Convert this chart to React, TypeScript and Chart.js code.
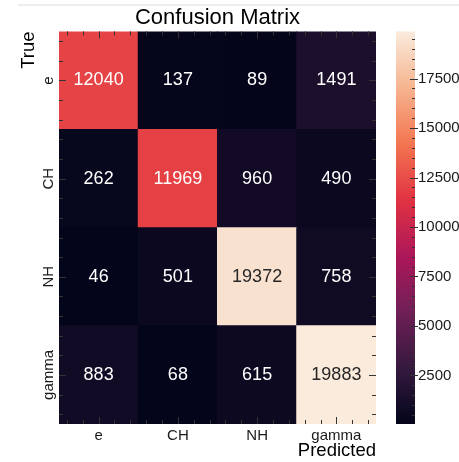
import React, { useEffect, useRef } from "react";
import { Chart, registerables } from "chart.js";

Chart.register(...registerables);

const chartTitle = "Confusion Matrix";
const xAxisTitle = "Predicted";
const yAxisTitle = "True";
const predictedLabels = ["e", "CH", "NH", "gamma"];
const trueLabels = ["e", "CH", "NH", "gamma"];
const trueE = [12040, 137, 89, 1491];
const trueCH = [262, 11969, 960, 490];
const trueNH = [46, 501, 19372, 758];
const trueGamma = [883, 68, 615, 19883];
const matrixRows = [trueE, trueCH, trueNH, trueGamma];
const colorbarTicks = [2500, 5000, 7500, 10000, 12500, 15000, 17500];
const colorbarMinorStep = 500;

const allValues = matrixRows.flat();
const VMIN = Math.min(...allValues);
const VMAX = Math.max(...allValues);

const FONT = '"Liberation Sans", Arial, Helvetica, sans-serif';
const TEXT = "#1a1a1a";

const rocketStops = ["#03051a", "#35193e", "#701f57", "#ad1759", "#e13342", "#f37651", "#f6b48f", "#faebdd"];

function hexToRgb(h: string): number[] {
  return [parseInt(h.slice(1, 3), 16), parseInt(h.slice(3, 5), 16), parseInt(h.slice(5, 7), 16)];
}
const rocketRgb = rocketStops.map(hexToRgb);

function rocket(t: number): number[] {
  const c = Math.max(0, Math.min(1, t));
  const pos = c * (rocketRgb.length - 1);
  const i = Math.min(rocketRgb.length - 2, Math.floor(pos));
  const f = pos - i;
  const a = rocketRgb[i];
  const b = rocketRgb[i + 1];
  return [0, 1, 2].map((k) => Math.round(a[k] + (b[k] - a[k]) * f));
}
function norm(v: number): number {
  return (v - VMIN) / (VMAX - VMIN);
}
function rgbStr(c: number[]): string {
  return `rgb(${c[0]},${c[1]},${c[2]})`;
}
function luminance(c: number[]): number {
  const lin = c.map((x) => {
    const s = x / 255;
    return s <= 0.03928 ? s / 12.92 : Math.pow((s + 0.055) / 1.055, 2.4);
  });
  return 0.2126 * lin[0] + 0.7152 * lin[1] + 0.0722 * lin[2];
}

const nRows = trueLabels.length;

const extrasPlugin = {
  id: "heatmapExtras",
  afterDatasetsDraw(chart: any) {
    const ctx = chart.ctx as CanvasRenderingContext2D;
    const area = chart.chartArea;
    const xs = chart.scales.x;
    const ys = chart.scales.y;
    const gap = chart.scales.gap;
    const cb = chart.scales.cb;
    ctx.save();

    // cell annotations
    ctx.font = `18px ${FONT}`;
    ctx.textAlign = "center";
    ctx.textBaseline = "middle";
    chart.data.datasets.forEach((ds: any, d: number) => {
      const r = nRows - 1 - d;
      const meta = chart.getDatasetMeta(d);
      meta.data.forEach((el: any, j: number) => {
        const v = matrixRows[r][j];
        const col = rocket(norm(v));
        ctx.fillStyle = luminance(col) > 0.408 ? "#262626" : "#ffffff";
        const p = el.getProps(["x", "y", "base"], true);
        ctx.fillText(String(v), p.x, (p.y + p.base) / 2);
      });
    });

    // y tick labels (rotated)
    ctx.font = `15px ${FONT}`;
    ctx.fillStyle = TEXT;
    ctx.textAlign = "center";
    ctx.textBaseline = "alphabetic";
    trueLabels.forEach((lab, r) => {
      const py = ys.getPixelForValue(nRows - 1 - r + 0.5);
      ctx.save();
      ctx.translate(area.left - 6, py);
      ctx.rotate(-Math.PI / 2);
      ctx.fillText(lab, 0, 0);
      ctx.restore();
    });

    // inner ticks on the heatmap
    ctx.strokeStyle = "#333333";
    ctx.lineWidth = 1;
    ctx.beginPath();
    const nCols = predictedLabels.length;
    const cw = (area.right - area.left) / nCols;
    for (let j = 0; j < nCols; j++) {
      for (let k = 0; k < 5; k++) {
        const len = k === 2 ? 7 : 4;
        const px = Math.round(area.left + (j + (k + 0.5) / 5) * cw) + 0.5;
        ctx.moveTo(px, area.top);
        ctx.lineTo(px, area.top + len);
        ctx.moveTo(px, area.bottom);
        ctx.lineTo(px, area.bottom - len);
      }
    }
    for (let r = 0; r < nRows; r++) {
      for (let k = 0; k < 5; k++) {
        const len = k === 2 ? 7 : 4;
        const py = Math.round(ys.getPixelForValue(r + (k + 0.5) / 5)) + 0.5;
        ctx.moveTo(area.left, py);
        ctx.lineTo(area.left + len, py);
        ctx.moveTo(area.right, py);
        ctx.lineTo(area.right - len, py);
      }
    }
    ctx.stroke();

    // colorbar
    const x1 = gap.right;
    const x0 = x1 - 19;
    const yTop = cb.getPixelForValue(VMAX);
    const yBot = cb.getPixelForValue(VMIN);
    const grad = ctx.createLinearGradient(0, yBot, 0, yTop);
    for (let s = 0; s <= 64; s++) {
      grad.addColorStop(s / 64, rgbStr(rocket(s / 64)));
    }
    ctx.fillStyle = grad;
    ctx.fillRect(x0, yTop, x1 - x0, yBot - yTop);

    ctx.beginPath();
    for (let v = colorbarMinorStep; v < VMAX; v += colorbarMinorStep) {
      const py = Math.round(cb.getPixelForValue(v)) + 0.5;
      const major = colorbarTicks.includes(v);
      ctx.moveTo(major ? x1 - 5 : x1 - 3, py);
      ctx.lineTo(major ? x1 + 3 : x1, py);
    }
    ctx.stroke();

    ctx.restore();
  },
};

export default function App() {
  const ref = useRef<HTMLCanvasElement | null>(null);

  useEffect(() => {
    if (!ref.current) return;
    Chart.defaults.font.family = FONT;
    Chart.defaults.color = TEXT;

    const datasets = matrixRows
      .map((row, r) => ({
        label: trueLabels[r],
        data: row.map(() => 1),
        backgroundColor: row.map((v) => rgbStr(rocket(norm(v)))),
        borderWidth: 0,
        inflateAmount: 0.5,
        barPercentage: 1,
        categoryPercentage: 1,
        stack: "m",
      }))
      .reverse();

    const chart = new Chart(ref.current, {
      type: "bar",
      data: { labels: predictedLabels, datasets },
      plugins: [extrasPlugin],
      options: {
        responsive: false,
        animation: false,
        events: [],
        layout: { padding: 0 },
        plugins: {
          legend: { display: false },
          tooltip: { enabled: false },
          title: {
            display: true,
            text: chartTitle,
            fullSize: false,
            color: "#000",
            font: { size: 22, weight: "normal", family: FONT },
            padding: { top: 5, bottom: 0 },
          },
        },
        scales: {
          x: {
            stacked: true,
            grid: { display: false, drawTicks: false },
            border: { display: false },
            ticks: { font: { size: 15 }, color: TEXT, padding: 3 },
            title: {
              display: true,
              text: xAxisTitle,
              align: "end",
              color: "#000",
              font: { size: 18.5 },
              padding: { top: 0, bottom: 0 },
            },
            afterFit: (s: any) => {
              s.height = 38;
            },
          },
          y: {
            type: "linear",
            stacked: true,
            min: 0,
            max: nRows,
            grid: { display: false, drawTicks: false },
            border: { display: false },
            ticks: { display: false },
            title: {
              display: true,
              text: yAxisTitle,
              align: "end",
              color: "#000",
              font: { size: 18.5 },
              padding: { top: 18, bottom: 0 },
            },
            afterFit: (s: any) => {
              s.width = 59;
            },
          },
          gap: {
            type: "linear",
            position: "right",
            weight: 0,
            display: true,
            grid: { display: false, drawTicks: false },
            border: { display: false },
            ticks: { display: false },
            afterFit: (s: any) => {
              s.width = 39;
            },
          },
          cb: {
            type: "linear",
            position: "right",
            weight: 1,
            min: VMIN,
            max: VMAX,
            grid: { display: false, drawTicks: false },
            border: { display: false },
            afterBuildTicks: (s: any) => {
              s.ticks = colorbarTicks.map((v) => ({ value: v }));
            },
            ticks: { font: { size: 15 }, color: TEXT, padding: 3, callback: (v: any) => String(v) },
            afterFit: (s: any) => {
              s.width = 44;
            },
          },
        },
      } as any,
    });
    return () => chart.destroy();
  }, []);

  return (
    <div style={{ position: "absolute", left: 0, top: 0, width: 459, height: 462, background: "#fff" }}>
      <div style={{ position: "absolute", left: 18, top: 4, width: 441, height: 2, background: "#ededed" }} />
      <canvas ref={ref} width={459} height={462} style={{ position: "absolute", left: 0, top: 0, display: "block" }} />
    </div>
  );
}
